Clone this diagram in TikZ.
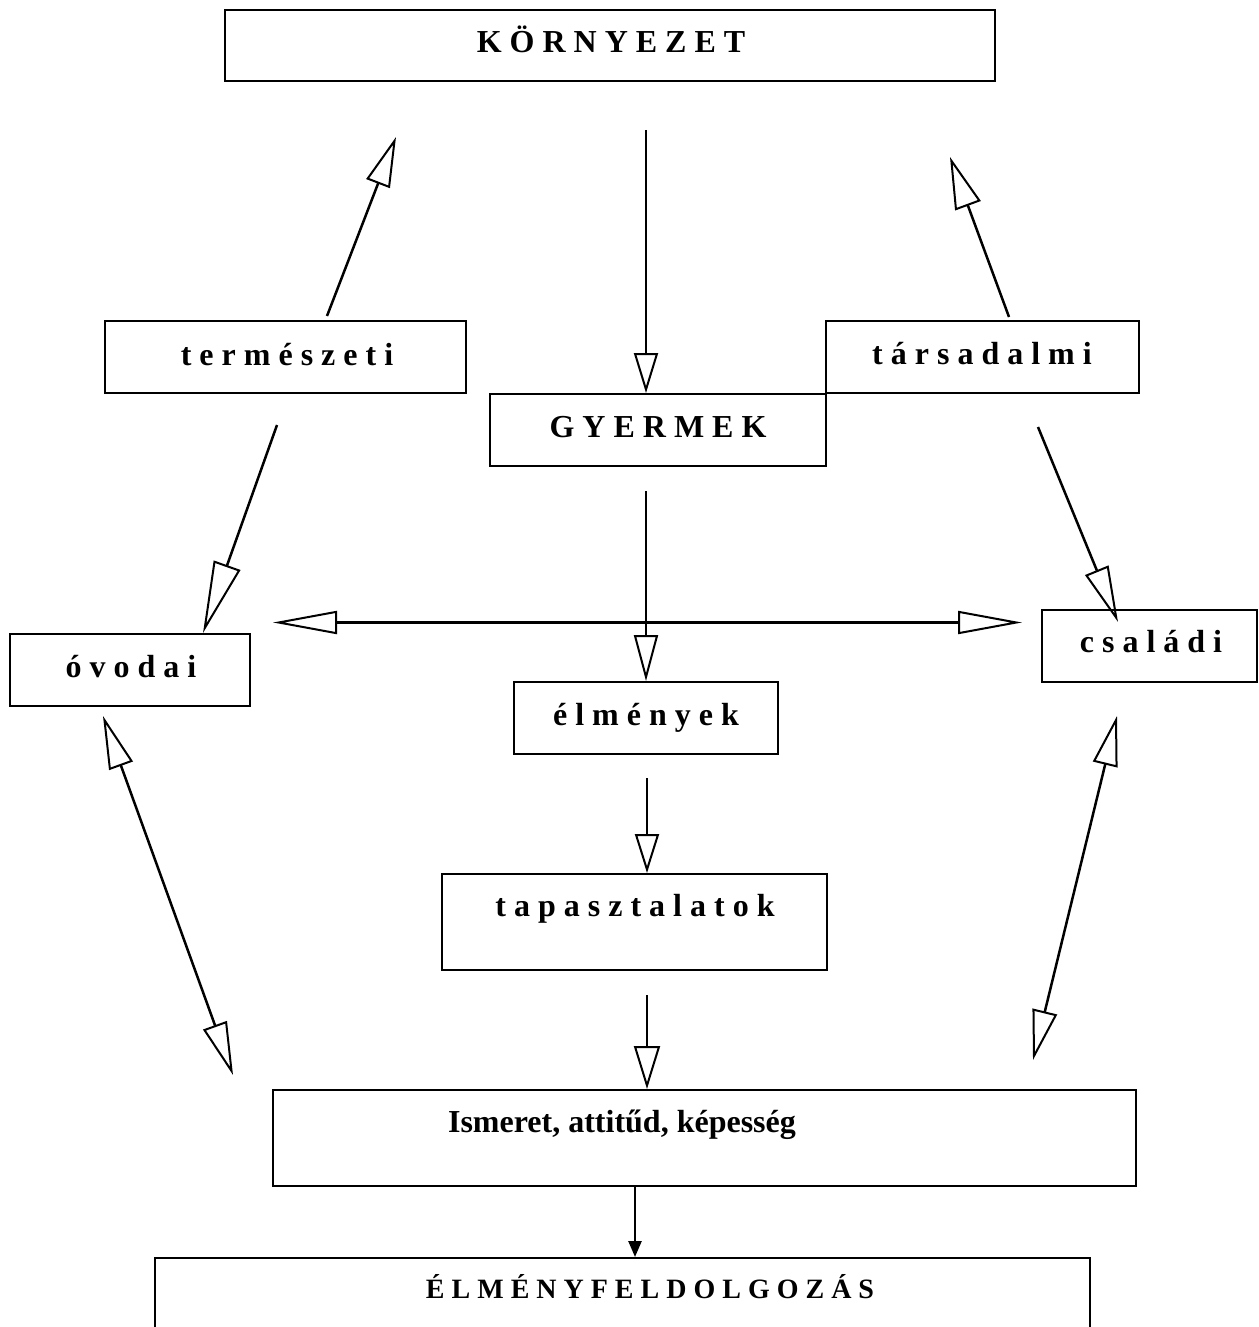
\documentclass[tikz,border=0pt]{standalone}
\usepackage{fontspec}
\setmainfont{Liberation Serif}
\usetikzlibrary{arrows.meta}
\begin{document}
\begin{tikzpicture}[x=1pt,y=-1pt,
  box/.style={draw,line width=2pt,inner sep=0pt},
  lbl/.style={anchor=base,inner sep=0pt,font=\fontsize{32}{38}\selectfont\bfseries},
  lblsmall/.style={anchor=base,inner sep=0pt,font=\fontsize{28}{34}\selectfont\bfseries},
  ln/.style={line width=2.5pt},
  oa/.style 2 args={ln,-{Triangle[open,length=#1pt,width=#2pt,line width=2pt]}},
  da/.style 2 args={ln,{Triangle[open,length=#1pt,width=#2pt,line width=2pt]}-{Triangle[open,length=#1pt,width=#2pt,line width=2pt]}},
  fa/.style={ln,-{Triangle[length=16pt,width=13pt]}}
]
\clip (0,0) rectangle (1258,1327);
\fill[white] (0,0) rectangle (1258,1327);

% boxes
\node[box,minimum width=770pt,minimum height=71pt] (korn) at (610,45.5) {};
\node[box,minimum width=361pt,minimum height=72pt] (term) at (285.5,357) {};
\node[box,minimum width=313pt,minimum height=72pt] (tars) at (982.5,357) {};
\node[box,minimum width=336pt,minimum height=72pt] (gyer) at (658,430) {};
\node[box,minimum width=240pt,minimum height=72pt] (ovo) at (130,670) {};
\node[box,minimum width=215pt,minimum height=72pt] (csal) at (1149.5,646) {};
\node[box,minimum width=264pt,minimum height=72pt] (elm) at (646,718) {};
\node[box,minimum width=385pt,minimum height=96pt] (tap) at (634.5,922) {};
\node[box,minimum width=863pt,minimum height=96pt] (ism) at (704.5,1138) {};
\node[box,minimum width=935pt,minimum height=84pt] (elf) at (622.5,1300) {};

% texts
\node[lbl] (kornT) at (611,53) {K Ö R N Y E Z E T};
\node[lbl] (termT) at (287,365) {t e r m é s z e t i};
\node[lbl] (tarsT) at (982,364) {t á r s a d a l m i};
\node[lbl] (gyerT) at (658,437) {G Y E R M E K};
\node[lbl] (ovoT) at (131,677) {ó v o d a i};
\node[lbl] (csalT) at (1151,652) {c s a l á d i};
\node[lbl] (elmT) at (646,725) {é l m é n y e k};
\node[lbl] (tapT) at (635,916) {t a p a s z t a l a t o k};
\node[lbl] (ismT) at (622,1132) {Ismeret, attitűd, képesség};
\node[lblsmall] (elfT) at (650,1298) {É L M É N Y F E L D O L G O Z Á S};

% free ends
\coordinate (a0) at (646,130);
\coordinate (b0) at (327,316);
\coordinate (b1) at (396,137);
\coordinate (c0) at (1009,317);
\coordinate (c1) at (950,157);
\coordinate (d0) at (277,425);
\coordinate (d1) at (203,633);
\coordinate (e0) at (1038,427);
\coordinate (e1) at (1118,622);
\coordinate (f0) at (646,491);
\coordinate (g0) at (273,622.5);
\coordinate (g1) at (1022,622.5);
\coordinate (h0) at (647,778);
\coordinate (i0) at (647,995);
\coordinate (j0) at (103,716);
\coordinate (j1) at (233,1075);
\coordinate (k0) at (1117,716);
\coordinate (k1) at (1033,1060);
\coordinate (l0) at (635,1186);

% connectors
\draw[oa={40}{24}] (a0) -- (a0 |- gyer.north);
\draw[oa={50}{25}] (b0) -- (b1);
\draw[oa={52}{27}] (c0) -- (c1);
\draw[oa={72}{28}] (d0) -- (d1);
\draw[oa={56}{25}] (e0) -- (e1);
\draw[oa={46}{24}] (f0) -- (f0 |- elm.north);
\draw[da={64}{23}] (g0) -- (g1);
\draw[oa={39}{24}] (h0) -- (h0 |- tap.north);
\draw[oa={43}{26}] (i0) -- (i0 |- ism.north);
\draw[da={53}{25}] (j0) -- (j1);
\draw[da={50}{25}] (k0) -- (k1);
\draw[fa] (l0) -- (l0 |- elf.north);
\end{tikzpicture}
\end{document}
